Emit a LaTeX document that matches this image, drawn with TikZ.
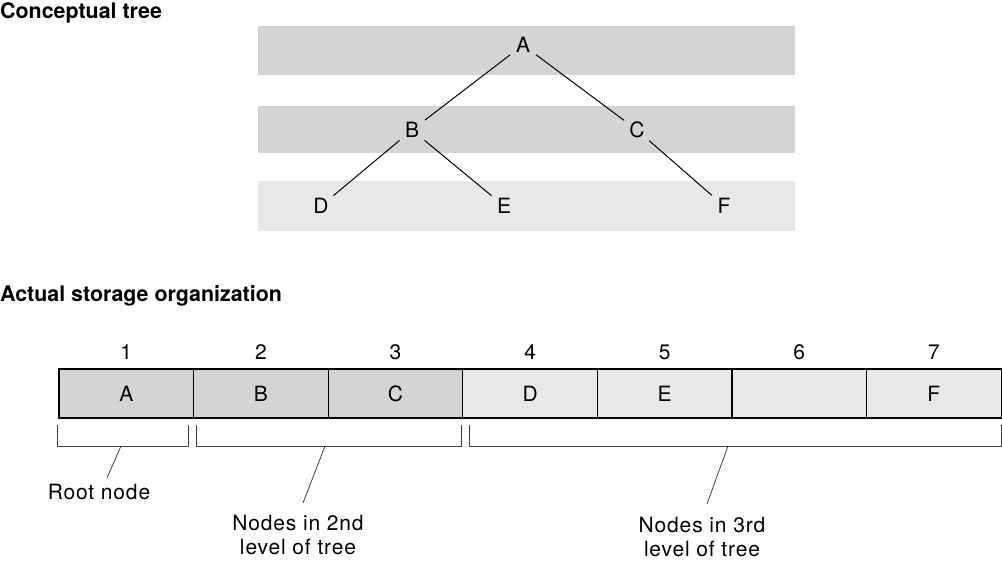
\documentclass[tikz,border=0pt]{standalone}
\usepackage{fontspec}
\setmainfont{TeX Gyre Heros}
\newfontfamily\lblfont[LetterSpace=4]{TeX Gyre Heros}
\definecolor{darkband}{HTML}{D4D4D4}
\definecolor{lightband}{HTML}{E8E8E8}
\begin{document}
\begin{tikzpicture}[x=1pt,y=-1pt,
  lbl/.style={font=\lblfont\fontsize{21}{24}\selectfont, inner sep=0pt},
  tnode/.style={lbl, circle, minimum size=32pt},
  title/.style={font=\fontsize{21.4}{24}\selectfont\bfseries, inner sep=0pt, anchor=base west},
  cell/.style={lbl, draw=black, line width=1.2pt, minimum width=134.6pt, minimum height=49pt, outer sep=0pt},
  edge/.style={line width=1pt},
  brack/.style={line width=0.8pt, draw=black!75},
]
\useasboundingbox (0,0) rectangle (1002,569);
% titles
\node[title] (t1) at (0,19) {Conceptual tree};
\node[title] (t2) at (0,302) {Actual storage organization};
% bands
\fill[darkband] (258,26) rectangle (795,75);
\fill[darkband] (258,106) rectangle (795,153);
\fill[lightband] (258,181) rectangle (795,231);
% tree
\node[tnode] (A) at (523,45) {A};
\node[tnode] (B) at (412,130) {B};
\node[tnode] (C) at (637,130) {C};
\node[tnode] (D) at (321,206) {D};
\node[tnode] (E) at (504,206) {E};
\node[tnode] (F) at (724,206) {F};
\draw[edge] (A) -- (B);
\draw[edge] (A) -- (C);
\draw[edge] (B) -- (D);
\draw[edge] (B) -- (E);
\draw[edge] (C) -- (F);
% storage cells
\node[cell, fill=darkband] (c1) at (126.3,393.5) {A};
\node[cell, fill=darkband, anchor=west] (c2) at (c1.east) {B};
\node[cell, fill=darkband, anchor=west] (c3) at (c2.east) {C};
\node[cell, fill=lightband, anchor=west] (c4) at (c3.east) {D};
\node[cell, fill=lightband, anchor=west] (c5) at (c4.east) {E};
\node[cell, fill=lightband, anchor=west] (c6) at (c5.east) {};
\node[cell, fill=lightband, anchor=west] (c7) at (c6.east) {F};
% indices
\foreach \i in {1,...,7} {
  \node[lbl] (n\i) at ([yshift=41pt]c\i.center) {\i};
}
% brackets
\coordinate (b1a) at (57,425); \coordinate (b1b) at (188,425);
\coordinate (b2a) at (196,425); \coordinate (b2b) at (461,425);
\coordinate (b3a) at (469,425); \coordinate (b3b) at (1001,425);
\draw[brack] (b1a) -- ++(0,21) -| (b1b);
\draw[brack] (b2a) -- ++(0,21) -| (b2b);
\draw[brack] (b3a) -- ++(0,21) -| (b3b);
% labels
\node[lbl] (r) at (99,492) {Root node};
\node[lbl, align=center] (l2) at (298,535) {Nodes in 2nd\\level of tree};
\node[lbl, align=center] (l3) at (702,537) {Nodes in 3rd\\level of tree};
\coordinate (p1) at (121,446); \coordinate (q1) at (107,478);
\coordinate (p2) at (325,446); \coordinate (q2) at (303,503);
\coordinate (p3) at (728,446); \coordinate (q3) at (707,504);
\draw[brack] (p1) -- (q1);
\draw[brack] (p2) -- (q2);
\draw[brack] (p3) -- (q3);
\end{tikzpicture}
\end{document}
